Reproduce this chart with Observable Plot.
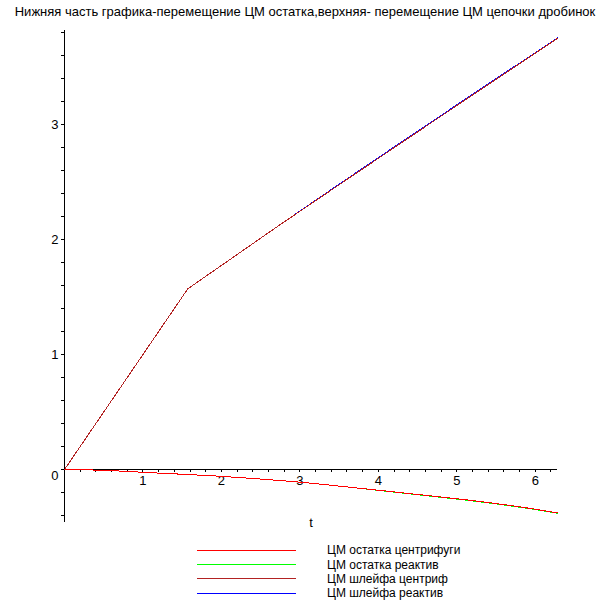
<!DOCTYPE html>
<html><head><meta charset="utf-8">
<script src="https://cdn.jsdelivr.net/npm/d3@7"></script>
<script src="https://cdn.jsdelivr.net/npm/@observablehq/plot@0.6"></script>
<style>
body{margin:0;background:#fff;font-family:"Liberation Sans",Arial,sans-serif;}
#wrap{position:relative;width:610px;height:610px;overflow:hidden;background:#fff;}
#title{position:absolute;left:0;top:5px;width:610px;text-align:center;font-size:13px;line-height:14px;white-space:nowrap;color:#000;}
#chart{position:absolute;left:0;top:28px;}
#legend{position:absolute;left:0;top:0;}
</style></head><body>
<div id="wrap"><div id="title"></div><div id="chart"></div><svg id="legend" width="610" height="610" style="pointer-events:none"></svg></div>
<script>
// ---- data ----
const titleText = "Нижняя часть графика-перемещение ЦМ остатка,верхняя- перемещение ЦМ цепочки дробинок";
const xLabel = "t";
const seriesNames = ["ЦМ остатка центрифуги", "ЦМ остатка реактив", "ЦМ шлейфа центриф", "ЦМ шлейфа реактив"];
const seriesColors = ["#ff0000", "#00ff00", "#b22222", "#0000ff"];
const xTickLabels = [1, 2, 3, 4, 5, 6];
const yTickLabels = [0, 1, 2, 3];

// lower curves (residue CM)
const tLow = [0, 0.5, 1, 1.5, 2, 2.5, 3, 3.5, 4, 4.5, 5, 5.5, 6, 6.283];
const ostatokCentr = [0, -0.007, -0.024, -0.041, -0.059, -0.083, -0.110, -0.144, -0.180, -0.217, -0.254, -0.296, -0.345, -0.377];
const ostatokReakt = [0, -0.007, -0.024, -0.041, -0.059, -0.083, -0.110, -0.144, -0.181, -0.219, -0.257, -0.299, -0.348, -0.380];
// upper curves (chain CM)
const tUp = [0, 1.571, 2.75, 3.5, 4.27, 5.3, 6.283];
const shleifCentr = [0, 1.571, 2.130, 2.476, 2.830, 3.302, 3.748];
const shleifReakt = [0, 1.571, 2.130, 2.481, 2.836, 3.308, 3.752];

// ---- build ----
document.getElementById("title").textContent = titleText;

const xDomain = [0, 6.283];
const yDomain = [-0.458, 3.817];
const W = 610, H = 510, mL = 64, mR = 53, mT = 2, mB = 16.3;
const pxX = (W - mL - mR) / (xDomain[1] - xDomain[0]);
const pxY = (H - mT - mB) / (yDomain[1] - yDomain[0]);
const tickLen = 3;

const xMinor = d3.range(1, 32).map(i => +(i * 0.2).toFixed(1));
const yMinor = d3.range(-2, 20).map(i => +(i * 0.2).toFixed(1));

const toRows = (ts, vs, name) => ts.map((t, i) => ({t, v: vs[i], name}));
const low1 = toRows(tLow, ostatokCentr, seriesNames[0]);
const low2 = toRows(tLow, ostatokReakt, seriesNames[1]);
const up1 = toRows(tUp, shleifCentr, seriesNames[2]);
const up2 = toRows(tUp, shleifReakt, seriesNames[3]);

const lineOpts = {x: "t", y: "v", stroke: "name", strokeWidth: 1, shapeRendering: "crispEdges"};

const chart = Plot.plot({
  width: W, height: H,
  marginLeft: mL, marginRight: mR, marginTop: mT, marginBottom: mB,
  x: {domain: xDomain, axis: null},
  y: {domain: yDomain, axis: null},
  color: {domain: seriesNames, range: seriesColors},
  style: {fontFamily: "'Liberation Sans', Arial, sans-serif", fontSize: "13px", background: "white", color: "black", overflow: "visible"},
  marks: [
    Plot.ruleY([0], {x1: xDomain[0], x2: xDomain[1], stroke: "black", shapeRendering: "crispEdges"}),
    Plot.ruleX([0], {y1: yDomain[0], y2: yDomain[1], stroke: "black", shapeRendering: "crispEdges"}),
    Plot.ruleX(xMinor, {x: d => d, y1: 0, y2: -tickLen / pxY, stroke: "black", shapeRendering: "crispEdges"}),
    Plot.ruleY(yMinor, {y: d => d, x1: 0, x2: -tickLen / pxX, stroke: "black", shapeRendering: "crispEdges"}),
    Plot.text(xTickLabels, {x: d => d, y: 0, dy: 11, text: d => String(d), fill: "black", fontSize: 13}),
    Plot.text(yTickLabels.filter(d => d !== 0), {x: 0, y: d => d, dx: -6, textAnchor: "end", text: d => String(d), fill: "black", fontSize: 13}),
    Plot.text(yTickLabels.filter(d => d === 0), {x: 0, y: d => d, dx: -6, dy: 6, textAnchor: "end", text: d => String(d), fill: "black", fontSize: 13}),
    Plot.text([xLabel], {frameAnchor: "bottom", dy: 5, text: d => d, fill: "black", fontSize: 13}),
    Plot.line(low2, {...lineOpts, curve: "monotone-x"}),
    Plot.line(low1, {...lineOpts, curve: "monotone-x"}),
    Plot.line(up2, lineOpts),
    Plot.line(up1, lineOpts)
  ]
});
document.getElementById("chart").appendChild(chart);

// legend
const lg = d3.select("#legend");
seriesNames.forEach((name, i) => {
  const y = 550 + i * 14.4;
  lg.append("line").attr("x1", 197).attr("x2", 296).attr("y1", y).attr("y2", y)
    .attr("stroke", seriesColors[i]).attr("stroke-width", 1).attr("shape-rendering", "crispEdges");
  lg.append("text").attr("x", 327).attr("y", y).attr("dy", "0.35em")
    .attr("font-family", "'Liberation Sans', Arial, sans-serif").attr("font-size", 12)
    .attr("fill", "black").text(name);
});
</script>
</body></html>
